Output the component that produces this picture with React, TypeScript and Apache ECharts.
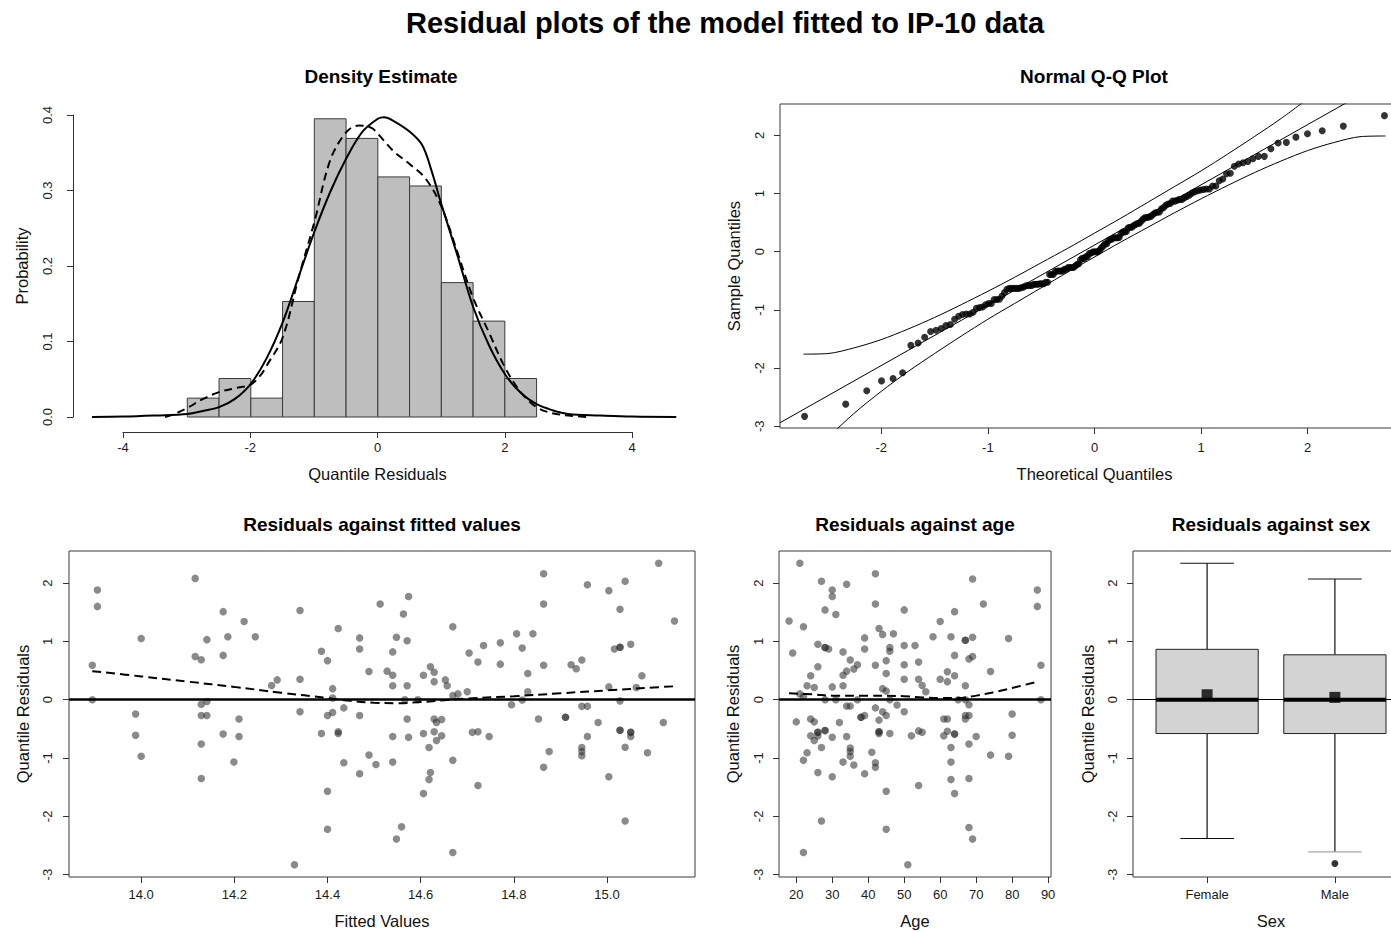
import React, { useEffect, useRef } from 'react';
import * as echarts from 'echarts';

const FONT = '"Liberation Sans", Arial, Helvetica, sans-serif';

// ---- Density estimate panel ----
const histBreaks = [-3, -2.5, -2, -1.5, -1, -0.5, 0, 0.5, 1, 1.5, 2, 2.5];
const histDensity = [0.025, 0.051, 0.025, 0.153, 0.395, 0.369, 0.318, 0.306, 0.178, 0.127, 0.051];

const kernelDensity: number[][] = [
  [-4.5, 0], [-4, 0.0005], [-3.5, 0.002], [-3, 0.004], [-2.75, 0.008], [-2.5, 0.013], [-2.25, 0.024],
  [-2, 0.044], [-1.75, 0.078], [-1.5, 0.125], [-1.25, 0.185], [-1, 0.245], [-0.75, 0.298], [-0.5, 0.342],
  [-0.25, 0.377], [0, 0.395], [0.1, 0.397], [0.25, 0.392], [0.5, 0.378], [0.7, 0.36], [0.85, 0.325],
  [1, 0.282], [1.25, 0.215], [1.5, 0.146], [1.75, 0.095], [2, 0.057], [2.25, 0.032], [2.5, 0.017],
  [2.75, 0.009], [3, 0.004], [3.5, 0.002], [4, 0.0005], [4.7, 0],
];

const dashedDensity: number[][] = [
  [-3.35, 0], [-3.2, 0.004], [-3, 0.012], [-2.75, 0.024], [-2.5, 0.033], [-2.2, 0.039], [-2, 0.043],
  [-1.85, 0.055], [-1.75, 0.068], [-1.5, 0.105], [-1.25, 0.184], [-1, 0.258], [-0.75, 0.34], [-0.5, 0.377],
  [-0.3, 0.386], [-0.1, 0.383], [0, 0.375], [0.25, 0.352], [0.5, 0.335], [0.75, 0.316], [1, 0.279],
  [1.25, 0.219], [1.5, 0.158], [1.75, 0.112], [2, 0.066], [2.25, 0.033], [2.5, 0.013], [2.75, 0.005],
  [3, 0.002], [3.3, 0],
];

const densityXTicks = [-4, -2, 0, 2, 4];
const densityYTicks = [0, 0.1, 0.2, 0.3, 0.4];

// ---- Residuals against fitted values: [fitted, residual] ----
const fittedResiduals: number[][] = [
  [13.906, 1.88], [13.906, 1.6], [13.895, 0.59], [13.895, 0.0], [14.0, 1.05], [13.988, -0.245], [13.988, -0.61],
  [14.0, -0.97], [14.116, 2.08], [14.116, 0.74], [14.129, 0.685], [14.141, 1.03], [14.129, -0.08], [14.141, -0.03],
  [14.129, -0.27], [14.141, -0.27], [14.129, -0.76], [14.129, -1.35], [14.176, 1.51], [14.176, 0.76], [14.176, -0.59],
  [14.186, 1.08], [14.221, 1.34], [14.199, -1.07], [14.21, -0.33], [14.21, -0.63], [14.245, 1.08], [14.28, 0.245],
  [14.292, 0.34],
  [14.329, -2.83], [14.341, 1.53], [14.341, 0.35], [14.341, -0.205], [14.387, 0.83], [14.4, 0.67], [14.387, -0.58],
  [14.4, -0.27], [14.4, -1.57], [14.4, -2.22], [14.411, 0.19], [14.411, 0.03], [14.411, -0.22], [14.423, 1.22],
  [14.423, -0.55], [14.423, -0.58], [14.435, -0.14], [14.435, -1.08], [14.469, 1.06], [14.469, 0.87], [14.469, -0.27],
  [14.469, -1.27], [14.489, 0.485], [14.489, -0.95], [14.504, -1.11], [14.513, 1.64], [14.528, 0.49], [14.54, 0.42],
  [14.54, 0.82], [14.54, 0.24], [14.54, -0.63], [14.54, -1.07], [14.548, 1.07], [14.548, -2.39], [14.559, -2.18],
  [14.563, 1.47], [14.571, 1.01], [14.571, 0.24], [14.574, 1.77], [14.571, -0.33], [14.574, -0.645], [14.566, 0.0],
  [14.594, 0.0], [14.606, 0.42], [14.606, -0.58], [14.606, -1.61], [14.618, -0.82], [14.618, -1.37], [14.621, -1.25],
  [14.621, 0.565], [14.629, 0.47], [14.629, 0.31], [14.629, -0.33], [14.629, -0.55], [14.634, -0.39], [14.634, -0.7],
  [14.645, -0.34], [14.645, -0.62], [14.653, 0.34], [14.657, 0.24], [14.669, 1.25], [14.669, 0.07], [14.669, -1.04],
  [14.669, -2.62], [14.68, 0.1], [14.7, 0.137], [14.704, 0.8], [14.711, -0.56], [14.723, 0.645], [14.723, -0.55],
  [14.723, -1.47], [14.735, 0.93], [14.747, -0.63],
  [14.771, 0.975], [14.771, 0.61], [14.795, -0.086], [14.806, 1.13], [14.818, 0.885], [14.818, -0.005], [14.83, 0.45],
  [14.83, 0.137], [14.841, 1.13], [14.853, -0.33], [14.864, 2.16], [14.864, 1.64], [14.864, 0.59], [14.864, -1.16],
  [14.876, -0.89], [14.911, -0.3], [14.911, -0.3], [14.923, 0.6], [14.934, 0.53], [14.946, 0.68], [14.946, -0.114],
  [14.958, -0.114], [14.958, 1.97], [14.958, -0.63], [14.946, -0.82], [14.946, -0.89], [14.946, -0.96], [14.981, -0.39],
  [15.004, 1.87], [15.004, 0.22], [15.004, -1.32], [15.028, 1.55], [15.028, 0.9], [15.028, 0.9], [15.016, 0.87],
  [15.028, -0.02], [15.028, -0.525], [15.028, -0.525], [15.039, 2.03], [15.039, -0.816], [15.039, -2.08], [15.051, 0.95],
  [15.051, -0.56], [15.051, -0.56], [15.051, -0.63], [15.063, 0.21], [15.075, 0.41], [15.087, -0.91], [15.111, 2.34],
  [15.121, -0.39], [15.145, 1.35],
];

const fittedSmooth: number[][] = [
  [13.895, 0.49], [14.0, 0.4], [14.1, 0.31], [14.2, 0.22], [14.3, 0.12], [14.4, 0.03], [14.45, -0.02], [14.5, -0.05],
  [14.55, -0.06], [14.6, -0.04], [14.65, -0.01], [14.7, 0.02], [14.8, 0.06], [14.9, 0.11], [15.0, 0.16], [15.1, 0.21],
  [15.145, 0.23],
];

const fittedTicks = [14.0, 14.2, 14.4, 14.6, 14.8, 15.0];
const residualTicks = [-3, -2, -1, 0, 1, 2];

// ---- Residuals against age: [age, residual] ----
const ageResiduals: number[][] = [
  [21, 2.34], [18, 1.35], [19, 0.8], [22, 1.25], [21, 0.1], [22, 0.06], [20, -0.38], [23, 0.24], [24, 0.41], [25, 0.21],
  [24, -0.33], [25, -0.38], [24, -0.62], [25, -0.7], [23, -0.91], [22, -1.04], [22, -2.62], [26, 0.95], [26, 0.565],
  [26, -0.56], [26, -0.56], [26, -0.62], [27, -0.82], [26, -1.25], [27, 2.03], [27, -2.08], [28, -0.53], [28, -0.53],
  [28, 1.54], [28, 0.895], [28, 0.895], [29, 0.87], [28, 0.0], [30, 1.88], [30, 1.77], [30, 0.22], [30, -0.645],
  [30, -1.32], [31, 1.46], [31, 0.0], [32, -0.39], [33, 0.82], [33, 0.42], [33, 0.24], [33, -1.07], [34, 1.98],
  [34, 0.49], [34, -0.11], [34, -0.63], [35, 0.68], [35, -0.11], [35, -0.83], [35, -0.89], [35, -0.97], [36, 0.525],
  [36, -1.12], [37, 0.6], [37, 0.0], [38, -0.3], [38, -0.3], [39, 1.06], [39, 0.87], [39, -0.27], [39, -1.27],
  [41, -0.9], [42, 2.16], [42, 1.64], [42, 0.59], [42, -0.14], [42, -1.08], [42, -1.16], [43, 1.22], [43, -0.35],
  [43, -0.55], [43, -0.55], [43, -0.58], [44, 1.12], [44, 0.19], [44, -0.205], [45, 0.67], [45, 0.45], [45, 0.15],
  [45, -0.27], [45, -1.57], [45, -2.22], [46, 0.895], [46, 0.83], [46, 0.0], [46, -0.58], [47, 1.13], [48, -0.09],
  [50, 1.54], [50, 0.93], [50, 0.6], [50, 0.35], [50, -0.205], [51, -2.83], [53, 0.93],
  [52, -0.62], [54, 0.645], [54, 0.35], [55, 0.245], [56, 0.137], [54, -0.535], [55, -0.56], [54, -1.47], [58, 1.08],
  [60, 1.34], [60, 0.35], [61, -0.33], [61, -0.62], [62, 0.48], [62, 0.31], [62, -0.33], [62, -0.54], [63, -1.07],
  [63, 1.08], [64, 1.51], [64, 0.76], [64, 0.41], [64, -0.59], [64, -0.59], [63, -0.82], [63, -1.37], [64, -1.61],
  [65, 0.0], [67, 1.02], [67, 1.02], [68, 0.7], [69, 0.74], [69, 1.07], [67, 0.24], [67, 0.0], [68, -0.086], [67, -0.27],
  [68, -0.27], [67, -0.33], [68, -0.76], [68, -1.35], [68, -2.19], [69, -2.39], [69, 2.07], [70, -0.63], [72, 1.64],
  [74, 0.485], [74, -0.95], [79, 1.05], [80, -0.245], [80, -0.61], [79, -0.97], [87, 1.88], [87, 1.6], [88, 0.59],
  [88, 0.0],
];

const ageSmooth: number[][] = [
  [18, 0.11], [25, 0.09], [30, 0.07], [40, 0.07], [50, 0.06], [55, 0.04], [60, 0.03], [65, 0.03], [70, 0.07],
  [75, 0.13], [80, 0.2], [87, 0.31],
];
const ageTicks = [20, 30, 40, 50, 60, 70, 80, 90];

// ---- Residuals against sex ----
const sexLevels = ['Female', 'Male'];
// [lower whisker, Q1, median, Q3, upper whisker]
const sexBoxStats = [
  [-2.38, -0.58, 0, 0.864, 2.34],
  [-2.61, -0.58, 0, 0.77, 2.07],
];
const sexMeans = [0.085, 0.04];
const sexOutliers = [[2, -2.81]];
const lowerCapColors = ['#111', '#a8a8a8'];

// ---- Normal Q-Q panel ----
const qqRefLine = [[-2.95, -2.94], [2.95, 3.17]];
const qqUpperBand: number[][] = [
  [-2.73, -1.76], [-2.5, -1.75], [-2.25, -1.65], [-2.0, -1.51], [-1.75, -1.33], [-1.5, -1.13], [-1.25, -0.91],
  [-1.0, -0.68], [-0.75, -0.44], [-0.5, -0.19], [-0.25, 0.06], [0, 0.32], [0.25, 0.58], [0.5, 0.85], [0.75, 1.12],
  [1.0, 1.39], [1.25, 1.68], [1.5, 1.98], [1.75, 2.29], [2.0, 2.63],
];
const qqLowerBand: number[][] = [
  [-2.73, -3.66], [-2.5, -3.2], [-2.25, -2.77], [-2.0, -2.4], [-1.75, -2.06], [-1.5, -1.75], [-1.25, -1.45],
  [-1.0, -1.16], [-0.75, -0.89], [-0.5, -0.62], [-0.25, -0.35], [0, -0.09], [0.25, 0.17], [0.5, 0.42], [0.75, 0.67],
  [1.0, 0.91], [1.25, 1.14], [1.5, 1.36], [1.75, 1.56], [2.0, 1.74], [2.25, 1.88], [2.5, 1.98], [2.73, 1.99],
];
const qqXTicks = [-2, -1, 0, 1, 2];

// inverse standard normal CDF (Acklam)
function qnorm(p: number): number {
  const a = [-39.69683028665376, 220.9460984245205, -275.9285104469687, 138.357751867269, -30.66479806614716, 2.506628277459239];
  const b = [-54.47609879822406, 161.5858368580409, -155.6989798598866, 66.80131188771972, -13.28068155288572];
  const c = [-0.007784894002430293, -0.3223964580411365, -2.400758277161838, -2.549732539343734, 4.374664141464968, 2.938163982698783];
  const d = [0.007784695709041462, 0.3224671290700398, 2.445134137142996, 3.754408661907416];
  const pl = 0.02425;
  if (p < pl) {
    const q = Math.sqrt(-2 * Math.log(p));
    return (((((c[0] * q + c[1]) * q + c[2]) * q + c[3]) * q + c[4]) * q + c[5]) / ((((d[0] * q + d[1]) * q + d[2]) * q + d[3]) * q + 1);
  }
  if (p <= 1 - pl) {
    const q = p - 0.5;
    const r = q * q;
    return ((((((a[0] * r + a[1]) * r + a[2]) * r + a[3]) * r + a[4]) * r + a[5]) * q) / (((((b[0] * r + b[1]) * r + b[2]) * r + b[3]) * r + b[4]) * r + 1);
  }
  const q = Math.sqrt(-2 * Math.log(1 - p));
  return -(((((c[0] * q + c[1]) * q + c[2]) * q + c[3]) * q + c[4]) * q + c[5]) / ((((d[0] * q + d[1]) * q + d[2]) * q + d[3]) * q + 1);
}

const AXIS_COLOR = '#333';
const nameStyle = { fontSize: 16.5, fontFamily: FONT, color: '#111' };

function ticks(values: number[]) {
  return { show: true, length: 6, inside: false, lineStyle: { color: AXIS_COLOR, width: 1 }, customValues: values };
}
function labels(values: number[], extra: any = {}) {
  return { show: true, customValues: values, color: '#1a1a1a', fontSize: 13, fontFamily: FONT, ...extra };
}

function xAxis(gridIndex: number, min: number, max: number, values: number[] | null, extra: any = {}) {
  return {
    type: 'value', gridIndex, min, max, position: 'bottom',
    splitLine: { show: false },
    axisLine: { show: false, onZero: false },
    axisTick: values ? ticks(values) : { show: false },
    axisLabel: values ? labels(values, { margin: 11, ...(extra.label || {}) }) : { show: false },
    nameLocation: 'middle', nameTextStyle: nameStyle,
    ...(extra.axis || {}),
  };
}
function yAxis(gridIndex: number, min: number, max: number, values: number[] | null, extra: any = {}) {
  return {
    type: 'value', gridIndex, min, max, position: 'left',
    splitLine: { show: false },
    axisLine: { show: false, onZero: false },
    axisTick: values ? ticks(values) : { show: false },
    axisLabel: values ? labels(values, { rotate: 90, margin: 15, ...(extra.label || {}) }) : { show: false },
    nameLocation: 'middle', nameTextStyle: nameStyle,
    ...(extra.axis || {}),
  };
}

const boxGrid = { show: true, borderColor: '#3a3a3a', borderWidth: 1, backgroundColor: 'transparent' };
const pointColor = 'rgba(40,40,40,0.68)';
const zeroLine = (width: number) => ({
  silent: true, symbol: ['none', 'none'], label: { show: false },
  lineStyle: { color: '#000', width, type: 'solid' }, data: [{ yAxis: 0 }],
});

function buildOption(): any {
  const sortedResiduals = fittedResiduals.map((p) => p[1]).sort((a, b) => a - b);
  const n = sortedResiduals.length;
  const qqPoints = sortedResiduals.map((s, i) => [qnorm((i + 0.5) / n), s]);

  const title = (text: string, x: number, y: number, size: number) => ({
    type: 'text', x, y, silent: true,
    style: { text, fill: '#000', fontSize: size, fontWeight: 'bold', fontFamily: FONT, align: 'center', verticalAlign: 'middle' },
  });
  const lineAxis = { show: true, onZero: false, lineStyle: { color: AXIS_COLOR, width: 1 } };

  return {
    animation: false,
    backgroundColor: '#fff',
    grid: [
      { left: 73, top: 115, width: 616, height: 302 },
      { left: 123, top: 431, width: 509, height: 1 },
      { left: 780, top: 104, width: 629, height: 324, ...boxGrid },
      { left: 69, top: 551, width: 626, height: 326, ...boxGrid },
      { left: 779, top: 551, width: 272, height: 326, ...boxGrid },
      { left: 1133, top: 551, width: 276, height: 326, ...boxGrid },
    ],
    xAxis: [
      xAxis(0, -4.8, 4.9, null, { axis: { show: false } }),
      xAxis(1, -4, 4, densityXTicks, {
        axis: { axisLine: lineAxis, name: 'Quantile Residuals', nameGap: 33 },
        label: { margin: 9 },
      }),
      xAxis(2, -2.95, 2.95, qqXTicks, { axis: { name: 'Theoretical Quantiles', nameGap: 37 }, label: { margin: 13 } }),
      xAxis(3, 13.845, 15.189, fittedTicks, {
        axis: { name: 'Fitted Values', nameGap: 35 },
        label: { formatter: (v: number) => v.toFixed(1) },
      }),
      xAxis(4, 15.2, 90.8, ageTicks, { axis: { name: 'Age', nameGap: 35 } }),
      xAxis(5, 0.42, 2.58, [1, 2], {
        axis: { name: 'Sex', nameGap: 35 },
        label: { formatter: (v: number) => sexLevels[Math.round(v) - 1] },
      }),
    ],
    yAxis: [
      yAxis(0, 0, 0.4, densityYTicks, {
        axis: { axisLine: lineAxis, name: 'Probability', nameGap: 43 },
        label: { formatter: (v: number) => v.toFixed(1), margin: 19 },
      }),
      yAxis(1, 0, 1, null, { axis: { show: false } }),
      yAxis(2, -3.03, 2.54, residualTicks, { axis: { name: 'Sample Quantiles', nameGap: 38 }, label: { margin: 14 } }),
      yAxis(3, -3.04, 2.55, residualTicks, { axis: { name: 'Quantile Residuals', nameGap: 38 } }),
      yAxis(4, -3.04, 2.55, residualTicks, { axis: { name: 'Quantile Residuals', nameGap: 38 }, label: { margin: 14 } }),
      yAxis(5, -3.04, 2.55, residualTicks, { axis: { name: 'Quantile Residuals', nameGap: 37 }, label: { margin: 14 } }),
    ],
    graphic: [
      title('Residual plots of the model fitted to IP-10 data', 725, 23, 29),
      title('Density Estimate', 381, 76, 19),
      title('Normal Q-Q Plot', 1094, 76, 19),
      title('Residuals against fitted values', 382, 524, 19),
      title('Residuals against age', 915, 524, 19),
      title('Residuals against sex', 1271, 524, 19),
    ],
    series: [
      // histogram bars
      {
        type: 'custom', xAxisIndex: 0, yAxisIndex: 0, z: 1,
        encode: { x: [0, 1], y: 2 },
        data: histDensity.map((d, i) => [histBreaks[i], histBreaks[i + 1], d]),
        renderItem: (_p: any, api: any) => {
          const tl = api.coord([api.value(0), api.value(2)]);
          const br = api.coord([api.value(1), 0]);
          return {
            type: 'rect',
            shape: { x: tl[0], y: tl[1], width: br[0] - tl[0], height: br[1] - tl[1] },
            style: { fill: '#bebebe', stroke: '#3a3a3a', lineWidth: 1 },
          };
        },
      },
      {
        type: 'line', xAxisIndex: 0, yAxisIndex: 0, z: 3, data: kernelDensity, smooth: 0.35,
        symbol: 'none', lineStyle: { color: '#000', width: 2 },
      },
      {
        type: 'line', xAxisIndex: 0, yAxisIndex: 0, z: 3, data: dashedDensity, smooth: 0.35,
        symbol: 'none', lineStyle: { color: '#000', width: 2, type: [8, 5] },
      },
      // Q-Q panel
      {
        type: 'line', xAxisIndex: 2, yAxisIndex: 2, z: 2, data: qqRefLine, symbol: 'none', clip: true,
        lineStyle: { color: '#000', width: 1 },
      },
      {
        type: 'line', xAxisIndex: 2, yAxisIndex: 2, z: 2, data: qqUpperBand, symbol: 'none', smooth: 0.3, clip: true,
        lineStyle: { color: '#000', width: 1 },
      },
      {
        type: 'line', xAxisIndex: 2, yAxisIndex: 2, z: 2, data: qqLowerBand, symbol: 'none', smooth: 0.3, clip: true,
        lineStyle: { color: '#000', width: 1 },
      },
      {
        type: 'scatter', xAxisIndex: 2, yAxisIndex: 2, z: 3, data: qqPoints, symbolSize: 7,
        itemStyle: { color: '#000' },
      },
      // residuals vs fitted
      {
        type: 'scatter', xAxisIndex: 3, yAxisIndex: 3, z: 2, data: fittedResiduals, symbolSize: 7.5,
        itemStyle: { color: pointColor },
      },
      {
        type: 'line', xAxisIndex: 3, yAxisIndex: 3, z: 4, data: fittedSmooth, smooth: 0.4, symbol: 'none',
        lineStyle: { color: '#000', width: 2, type: [9, 5] },
        markLine: zeroLine(2.5),
      },
      // residuals vs age
      {
        type: 'scatter', xAxisIndex: 4, yAxisIndex: 4, z: 2, data: ageResiduals, symbolSize: 7.5,
        itemStyle: { color: pointColor },
      },
      {
        type: 'line', xAxisIndex: 4, yAxisIndex: 4, z: 4, data: ageSmooth, smooth: 0.4, symbol: 'none',
        lineStyle: { color: '#000', width: 2, type: [9, 5] },
        markLine: zeroLine(2.5),
      },
      // residuals vs sex
      {
        type: 'custom', xAxisIndex: 5, yAxisIndex: 5, z: 2,
        encode: { x: 0, y: [1, 2, 3, 4, 5] },
        data: sexBoxStats.map((s, i) => [i + 1, ...s]),
        markLine: zeroLine(1.2),
        renderItem: (params: any, api: any) => {
          const x = api.value(0);
          const lo = api.value(1), q1 = api.value(2), med = api.value(3), q3 = api.value(4), hi = api.value(5);
          const half = 0.4, cap = 0.21;
          const c = (xx: number, yy: number) => api.coord([xx, yy]);
          const seg = (a: number[], b: number[], stroke: string, w: number) => ({
            type: 'line', shape: { x1: a[0], y1: a[1], x2: b[0], y2: b[1] }, style: { stroke, lineWidth: w },
          });
          const tl = c(x - half, q3);
          const br = c(x + half, q1);
          return {
            type: 'group',
            children: [
              seg(c(x, q3), c(x, hi), '#111', 1.2),
              seg(c(x, q1), c(x, lo), '#111', 1.2),
              seg(c(x - cap, hi), c(x + cap, hi), '#111', 1.2),
              seg(c(x - cap, lo), c(x + cap, lo), lowerCapColors[params.dataIndex], 1.2),
              {
                type: 'rect', shape: { x: tl[0], y: tl[1], width: br[0] - tl[0], height: br[1] - tl[1] },
                style: { fill: '#d3d3d3', stroke: '#222', lineWidth: 1 },
              },
              seg(c(x - half, med), c(x + half, med), '#000', 4),
            ],
          };
        },
      },
      {
        type: 'scatter', xAxisIndex: 5, yAxisIndex: 5, z: 5, symbol: 'rect', symbolSize: 11,
        data: sexMeans.map((m, i) => [i + 1, m]), itemStyle: { color: '#000' },
      },
      {
        type: 'scatter', xAxisIndex: 5, yAxisIndex: 5, z: 5, symbolSize: 7,
        data: sexOutliers, itemStyle: { color: '#000' },
      },
    ],
  };
}

export default function App() {
  const ref = useRef<HTMLDivElement>(null);
  useEffect(() => {
    if (!ref.current) return;
    const chart = echarts.init(ref.current, null, { renderer: 'svg' });
    chart.setOption(buildOption());
    return () => chart.dispose();
  }, []);
  // The two right-hand panels run past the right edge, so the canvas is wider than the visible frame.
  return (
    <div style={{ position: 'fixed', left: 0, top: 0, width: 1391, height: 932, background: '#fff', overflow: 'hidden' }}>
      <div ref={ref} style={{ width: 1420, height: 932 }} />
    </div>
  );
}
